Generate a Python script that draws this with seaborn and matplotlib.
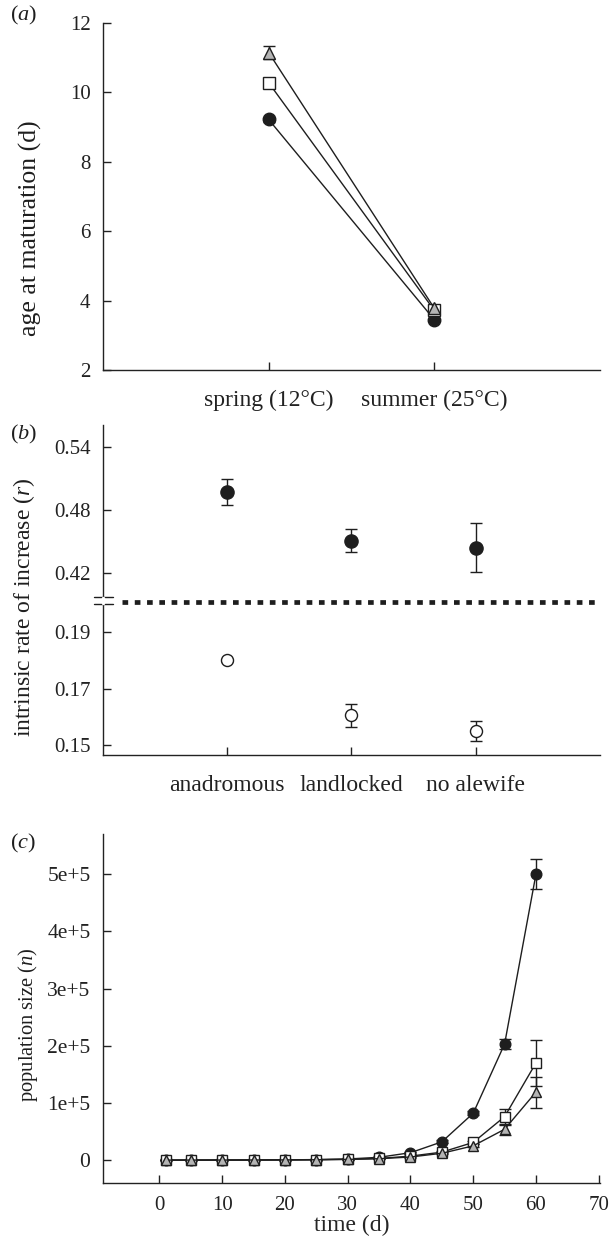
import numpy as np
import pandas as pd
import seaborn as sns
import matplotlib.pyplot as plt
from matplotlib.lines import Line2D

# panel (a): age at maturation
seasons = ['spring (12°C)', 'summer (25°C)']
age_tri = [11.15, 3.78]
age_tri_err = [0.18, 0.06]
age_sq = [10.28, 3.72]
age_sq_err = [0.09, 0.05]
age_circ = [9.22, 3.45]
age_circ_err = [0.08, 0.05]

# panel (b): intrinsic rate of increase
sources = ['anadromous', 'landlocked', 'no alewife']
r_summer = [0.497, 0.4505, 0.444]
r_summer_err = [0.012, 0.011, 0.023]
r_spring = [0.180, 0.1605, 0.155]
r_spring_err = [0.0005, 0.004, 0.0035]

# panel (c): population size over time
days = [1, 5, 10, 15, 20, 25, 30, 35, 40, 45, 50, 55, 60]
n_circ = [50, 100, 200, 300, 500, 1000, 2000, 5000, 13000, 32000, 82000, 203000, 500000]
n_circ_err = [0, 0, 0, 0, 0, 200, 400, 800, 1500, 2500, 3500, 8000, 26000]
n_sq = [50, 100, 200, 300, 500, 800, 1500, 3000, 7000, 14000, 31000, 76000, 170000]
n_sq_err = [0, 0, 0, 0, 0, 100, 300, 500, 1000, 2000, 3000, 14000, 40000]
n_tri = [50, 100, 150, 250, 400, 700, 1300, 2500, 5500, 12000, 25000, 54000, 119000]
n_tri_err = [0, 0, 0, 0, 0, 100, 300, 500, 1000, 2000, 2500, 10000, 27000]

sns.set_theme(style='ticks')
plt.rcParams['font.family'] = ['Liberation Serif', 'DejaVu Serif']
plt.rcParams['mathtext.fontset'] = 'custom'
plt.rcParams['mathtext.rm'] = 'Liberation Serif'
plt.rcParams['mathtext.it'] = 'Liberation Serif:italic'
plt.rcParams['axes.linewidth'] = 1.0
plt.rcParams['xtick.direction'] = 'in'
plt.rcParams['ytick.direction'] = 'in'
plt.rcParams['xtick.major.size'] = 6
plt.rcParams['ytick.major.size'] = 6
plt.rcParams['xtick.major.width'] = 1.0
plt.rcParams['ytick.major.width'] = 1.0
plt.rcParams['xtick.major.pad'] = 14
plt.rcParams['ytick.major.pad'] = 9
plt.rcParams['xtick.labelsize'] = 17
plt.rcParams['ytick.labelsize'] = 15
plt.rcParams['xtick.color'] = '#222222'
plt.rcParams['ytick.color'] = '#222222'
plt.rcParams['axes.edgecolor'] = '#222222'

INK = '#1e1e1e'
GREY = '#b4b4b4'
styles = {
    'tri': dict(marker='^', color=GREY, ms=9),
    'sq': dict(marker='s', color='white', ms=8),
    'circ': dict(marker='o', color=INK, ms=9),
}

fig = plt.figure(figsize=(6.16, 12.38), dpi=100)
L, W = 0.1672, 0.8068
ax_a = fig.add_axes([L, 0.7011, W, 0.2803])
ax_bh = fig.add_axes([L, 0.5137, W, 0.1430])
ax_bl = fig.add_axes([L, 0.3901, W, 0.1236])
ax_c = fig.add_axes([L, 0.0444, W, 0.2819])


def draw_series(ax, x, y, err, key, lw=1.0, ms_scale=1.0):
    st = styles[key]
    ax.errorbar(x, y, yerr=err, fmt='none', ecolor=INK, elinewidth=1.0,
                capsize=4, capthick=1.0, zorder=2)
    df = pd.DataFrame({'x': x, 'y': y})
    sns.lineplot(data=df, x='x', y='y', ax=ax, color=INK, lw=lw,
                 marker=st['marker'], markersize=st['ms'] * ms_scale,
                 markerfacecolor=st['color'], markeredgecolor=INK,
                 markeredgewidth=1.0, zorder=3, sort=False)


# ---- (a)
xa = np.arange(1, len(seasons) + 1)
draw_series(ax_a, xa, age_circ, age_circ_err, 'circ')
draw_series(ax_a, xa, age_sq, age_sq_err, 'sq')
draw_series(ax_a, xa, age_tri, age_tri_err, 'tri')
ax_a.set_xlim(0, 3)
ax_a.set_ylim(2, 12)
ax_a.set_xticks(xa)
ax_a.set_xticklabels(seasons)
ax_a.set_yticks([2, 4, 6, 8, 10, 12])
ax_a.set_xlabel('')
ax_a.set_ylabel('')
sns.despine(ax=ax_a)

# ---- (b) broken axis
xb = np.arange(1, len(sources) + 1)
ax_bh.errorbar(xb, r_summer, yerr=r_summer_err, fmt='none', ecolor=INK,
               elinewidth=1.0, capsize=4, capthick=1.0, zorder=2)
sns.scatterplot(x=xb, y=r_summer, ax=ax_bh, marker='o', s=90, color=INK,
                edgecolor=INK, linewidth=1.0, zorder=3)
ax_bl.errorbar(xb, r_spring, yerr=r_spring_err, fmt='none', ecolor=INK,
               elinewidth=1.0, capsize=4, capthick=1.0, zorder=2)
sns.scatterplot(x=xb, y=r_spring, ax=ax_bl, marker='o', s=75, color='white',
                edgecolor=INK, linewidth=1.0, zorder=3)
for ax in (ax_bh, ax_bl):
    ax.set_xlim(0, 4)
ax_bh.set_ylim(0.392, 0.561)
ax_bh.set_yticks([0.42, 0.48, 0.54])
ax_bh.set_yticklabels(['0.42', '0.48', '0.54'])
ax_bh.set_xticks([])
ax_bl.set_ylim(0.1465, 0.2006)
ax_bl.set_yticks([0.15, 0.17, 0.19])
ax_bl.set_yticklabels(['0.15', '0.17', '0.19'])
ax_bl.set_xticks(xb)
ax_bl.set_xticklabels(sources)
sns.despine(ax=ax_bh, bottom=True)
sns.despine(ax=ax_bl)

yb = 1 - 602 / 1238
fig.add_artist(Line2D([122 / 616, 600 / 616], [yb, yb], color=INK, lw=3.4,
                      dashes=(1.2, 1.4), solid_capstyle='butt',
                      dash_capstyle='butt'))
for yy in (597, 604):
    fig.add_artist(Line2D([94 / 616, 113 / 616], [1 - yy / 1238] * 2,
                          color=INK, lw=1.0))
# white gap in the spine at the break
fig.add_artist(Line2D([103 / 616, 103 / 616], [1 - 598 / 1238, 1 - 603 / 1238],
                      color='white', lw=2.5))

# ---- (c)
draw_series(ax_c, days, n_circ, n_circ_err, 'circ', ms_scale=0.85)
draw_series(ax_c, days, n_sq, n_sq_err, 'sq', ms_scale=0.85)
draw_series(ax_c, days, n_tri, n_tri_err, 'tri', ms_scale=0.85)
ax_c.set_xlim(-9, 70.2)
ax_c.set_ylim(-40000, 570000)
ax_c.set_xticks(range(0, 71, 10))
ax_c.tick_params(axis='x', labelsize=15, pad=9)
ax_c.set_yticks([0, 100000, 200000, 300000, 400000, 500000])
ax_c.set_yticklabels(['0', '1e+5', '2e+5', '3e+5', '4e+5', '5e+5'])
ax_c.tick_params(axis='y', labelsize=15.5)
ax_c.set_xlabel('time (d)', fontsize=17, labelpad=0)
ax_c.set_ylabel('')
sns.despine(ax=ax_c)

# y labels and panel letters
fig.text(0.0487, 1 - 228 / 1238, 'age at maturation (d)', rotation=90,
         ha='center', va='center', fontsize=18.5, color=INK)
fig.text(0.039, 1 - 607 / 1238, r'intrinsic rate of increase ($\mathit{r}$)',
         rotation=90, ha='center', va='center', fontsize=17, color=INK)
fig.text(0.0455, 1 - 1025 / 1238, r'population size ($\mathit{n}$)',
         rotation=90, ha='center', va='center', fontsize=14.8, color=INK)
for lab, yy in (('a', 15), ('b', 434), ('c', 843)):
    fig.text(0.016, 1 - yy / 1238, r'($\mathit{%s}$)' % lab, ha='left',
             va='center', fontsize=16, color=INK)

fig.savefig('out.png', dpi=100)
